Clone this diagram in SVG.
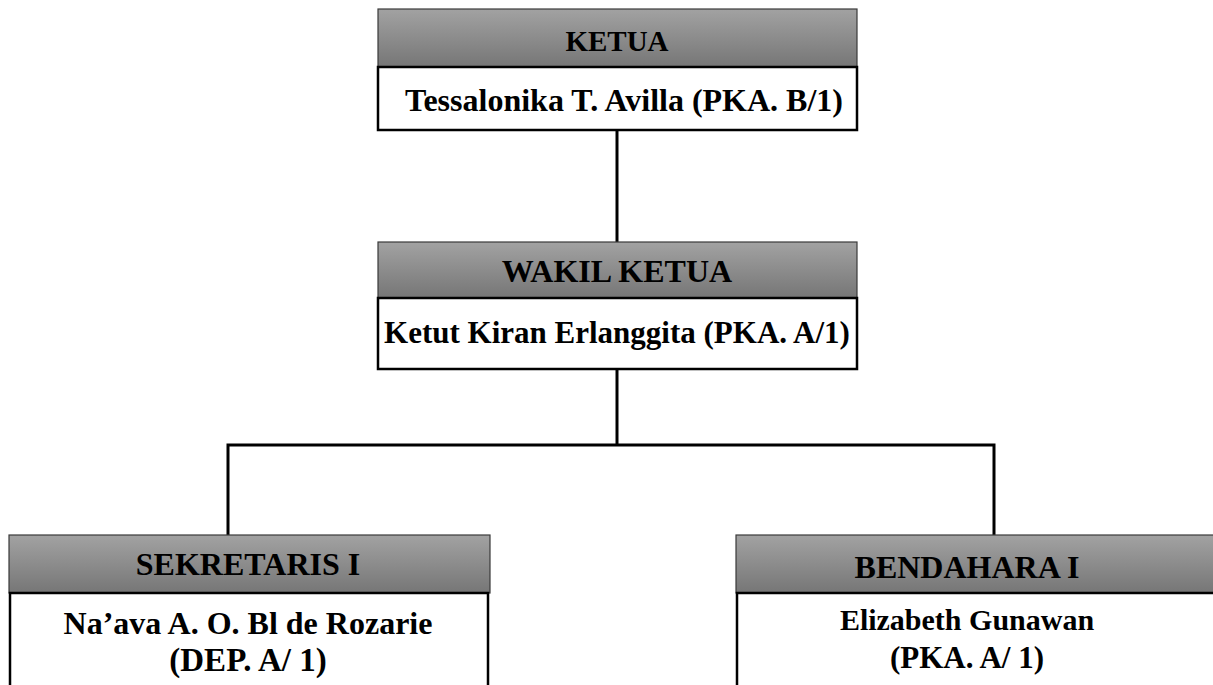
<svg xmlns="http://www.w3.org/2000/svg" width="1213" height="685" viewBox="0 0 1213 685">
<defs>
<linearGradient id="hg" x1="0" y1="0" x2="0" y2="1">
<stop offset="0" stop-color="#a2a2a2"/>
<stop offset="1" stop-color="#767676"/>
</linearGradient>
</defs>
<style>
.hd{fill:url(#hg);stroke:#3a3a3a;stroke-width:1.2}
.bx{fill:#ffffff;stroke:#000;stroke-width:2.5}
.ln{fill:none;stroke:#000;stroke-width:3}
text{font-family:"Liberation Serif","Times New Roman",serif;font-weight:bold;fill:#000;text-anchor:middle;font-size:32px}
</style>
<rect width="1213" height="685" fill="#fff"/>
<g id="connectors">
<line class="ln" x1="617" y1="130" x2="617" y2="242"/>
<polyline class="ln" points="617,369 617,445"/>
<polyline class="ln" points="228,535 228,445 994,445 994,535"/>
</g>
<g id="ketua">
<rect class="hd" x="378" y="9" width="479" height="58"/>
<rect class="bx" x="378" y="67" width="479" height="63"/>
<text x="617" y="51" style="font-size:29px">KETUA</text>
<text x="624" y="111">Tessalonika T. Avilla (PKA. B/1)</text>
</g>
<g id="wakil">
<rect class="hd" x="378" y="242" width="479" height="56"/>
<rect class="bx" x="378" y="298" width="479" height="71"/>
<text x="617" y="282">WAKIL KETUA</text>
<text x="617" y="343" style="font-size:31px">Ketut Kiran Erlanggita (PKA. A/1)</text>
</g>
<g id="sekretaris">
<rect class="hd" x="9" y="535" width="481" height="58"/>
<rect class="bx" x="10" y="593" width="478" height="110"/>
<text x="248" y="575">SEKRETARIS I</text>
<text x="248" y="634">Na’ava A. O. Bl de Rozarie</text>
<text x="248" y="671" style="font-size:33px">(DEP. A/ 1)</text>
</g>
<g id="bendahara">
<rect class="hd" x="736" y="535" width="500" height="58"/>
<rect class="bx" x="737" y="593" width="500" height="110"/>
<text x="967" y="578">BENDAHARA I</text>
<text x="967" y="630" style="font-size:30px">Elizabeth Gunawan</text>
<text x="967" y="668" style="font-size:31px">(PKA. A/ 1)</text>
</g>
</svg>
